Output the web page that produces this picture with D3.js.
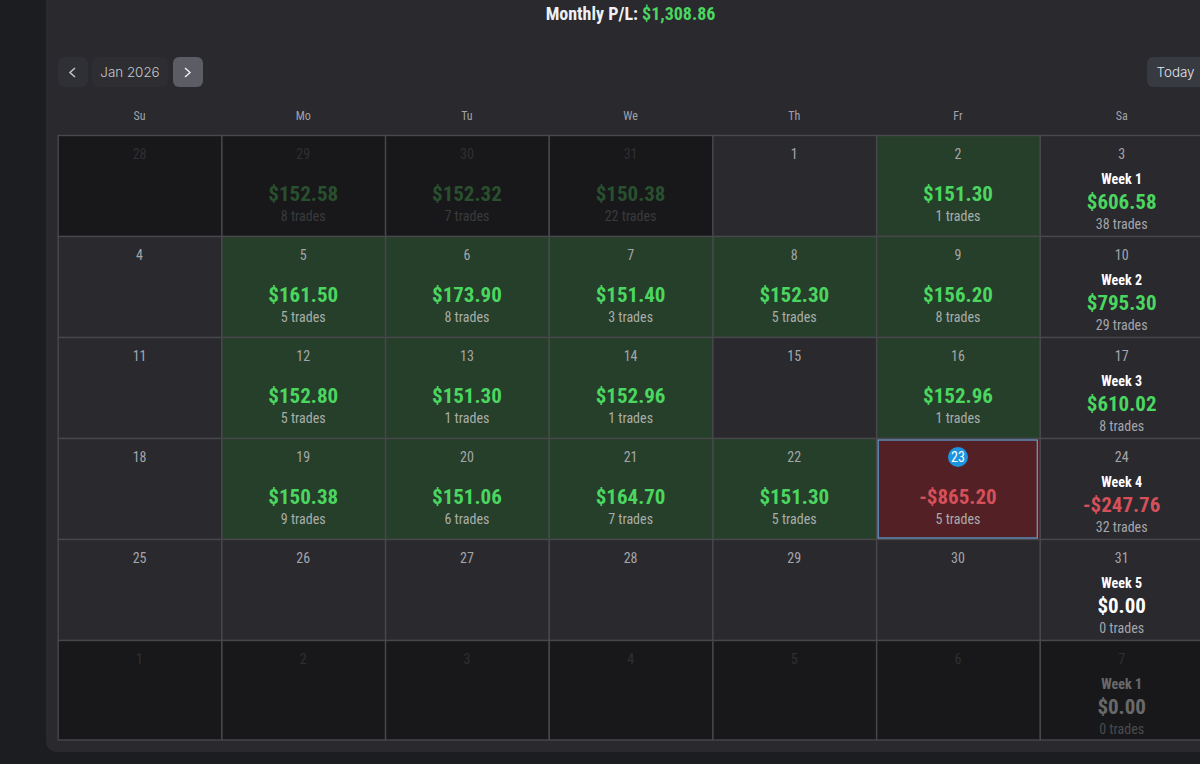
<!DOCTYPE html>
<html>
<head>
<meta charset="utf-8">
<script src="https://cdn.jsdelivr.net/npm/d3@7"></script>
<style>
  html, body { margin: 0; padding: 0; background: #1b1d21; overflow: hidden; }
  svg { display: block; }
  text { font-family: "Roboto Condensed", "Roboto", sans-serif; font-stretch: condensed; }
  .ui { font-family: "Inter", sans-serif; font-stretch: normal; font-weight: 300; }
</style>
</head>
<body>
<div id="grafica"></div>
<script>
// Datos del calendario
const weekDays = ["Su", "Mo", "Tu", "We", "Th", "Fr", "Sa"]
const dayNumbers = [
  28, 29, 30, 31, 1, 2, 3,
  4, 5, 6, 7, 8, 9, 10,
  11, 12, 13, 14, 15, 16, 17,
  18, 19, 20, 21, 22, 23, 24,
  25, 26, 27, 28, 29, 30, 31,
  1, 2, 3, 4, 5, 6, 7
]
const dayPnl = [
  null, 152.58, 152.32, 150.38, null, 151.30, null,
  null, 161.50, 173.90, 151.40, 152.30, 156.20, null,
  null, 152.80, 151.30, 152.96, null, 152.96, null,
  null, 150.38, 151.06, 164.70, 151.30, -865.20, null,
  null, null, null, null, null, null, null,
  null, null, null, null, null, null, null
]
const dayTrades = [
  0, 8, 7, 22, 0, 1, 0,
  0, 5, 8, 3, 5, 8, 0,
  0, 5, 1, 1, 0, 1, 0,
  0, 9, 6, 7, 5, 5, 0,
  0, 0, 0, 0, 0, 0, 0,
  0, 0, 0, 0, 0, 0, 0
]
const outsideMonth = [0, 1, 2, 3, 35, 36, 37, 38, 39, 40, 41]
const todayIndex = 26
const weekLabels = ["Week 1", "Week 2", "Week 3", "Week 4", "Week 5", "Week 1"]
const weekPnl = [606.58, 795.30, 610.02, -247.76, 0, 0]
const weekTrades = [38, 29, 8, 32, 0, 0]
const monthlyPnl = 1308.86

const green = "#4bd660"
const red = "#d6505a"
const line = "#48484c"
const panel = "#29292e"

const width = 1200
const height = 764

const money = v => (v < 0 ? "-$" : "$") + d3.format(",.2f")(Math.abs(v))
const pnlColor = v => v > 0 ? green : v < 0 ? red : "#ffffff"

const svg = d3.select("#grafica").append("svg")
  .attr("width", width)
  .attr("height", height)

// Panel principal
svg.append("rect")
  .attr("x", 46).attr("y", -20)
  .attr("width", 1200).attr("height", 772)
  .attr("rx", 10)
  .attr("fill", panel)

// Escalas de la cuadricula
const xScale = d3.scaleBand().domain(d3.range(7)).range([58.2, 1204])
const yScale = d3.scaleBand().domain(d3.range(6)).range([135.5, 741.5])
const lastRowTrim = 1.5

const cells = dayNumbers.map((day, i) => ({
  day, i,
  col: i % 7,
  row: Math.floor(i / 7),
  pnl: dayPnl[i],
  trades: dayTrades[i],
  outside: outsideMonth.includes(i)
}))

function cellFill(d) {
  if (d.outside) return "#18181a"
  if (d.pnl === null) return panel
  return d.pnl > 0 ? "#263f2a" : "#532026"
}

const centerX = col => xScale(col) + xScale.bandwidth() / 2 - 0.5

// Titulo
const title = svg.append("text")
  .attr("x", 630.5).attr("y", 20)
  .attr("text-anchor", "middle")
  .attr("font-size", 18).attr("font-weight", 700)
  .attr("fill", "#eef0f5")
title.append("tspan").text("Monthly P/L: ")
title.append("tspan").attr("fill", green).text(money(monthlyPnl))

// Controles
const chevron = "M-2.5,-4.5 L2.5,0 L-2.5,4.5"
svg.append("rect").attr("x", 58).attr("y", 57).attr("width", 30).attr("height", 30).attr("rx", 6).attr("fill", "#2f3035")
svg.append("path").attr("d", chevron).attr("transform", "translate(72.5,72.5) scale(-1,1)")
  .attr("fill", "none").attr("stroke", "#c4c5ca").attr("stroke-width", 1.5)
svg.append("rect").attr("x", 92).attr("y", 57).attr("width", 76).attr("height", 30).attr("rx", 6).attr("fill", "#2d2d32")
svg.append("text").attr("class", "ui").attr("x", 130).attr("y", 77)
  .attr("text-anchor", "middle").attr("font-size", 13.4).attr("fill", "#c6c7cc").text("Jan 2026")
svg.append("rect").attr("x", 173).attr("y", 57).attr("width", 30).attr("height", 30).attr("rx", 6).attr("fill", "#5b5c64")
svg.append("path").attr("d", chevron).attr("transform", "translate(187.5,72.5)")
  .attr("fill", "none").attr("stroke", "#eeeef0").attr("stroke-width", 1.5)
svg.append("rect").attr("x", 1147).attr("y", 57).attr("width", 80).attr("height", 30).attr("rx", 6).attr("fill", "#383a41")
svg.append("text").attr("class", "ui").attr("x", 1156.5).attr("y", 77)
  .attr("font-size", 13.4).attr("fill", "#e4e5ea").text("Today")

// Dias de la semana
svg.selectAll(".weekday").data(weekDays).enter().append("text")
  .attr("class", "weekday")
  .attr("x", (d, i) => centerX(i))
  .attr("y", 120)
  .attr("text-anchor", "middle")
  .attr("font-size", 12)
  .attr("fill", "#a2a2a9")
  .text(d => d)

// Celdas
svg.selectAll(".cell").data(cells).enter().append("rect")
  .attr("class", "cell")
  .attr("x", d => xScale(d.col))
  .attr("y", d => yScale(d.row))
  .attr("width", xScale.bandwidth())
  .attr("height", d => yScale.bandwidth() - (d.row === 5 ? lastRowTrim : 0))
  .attr("fill", cellFill)
  .attr("stroke", line)
  .attr("stroke-width", 1.4)

// Numero del dia
svg.selectAll(".day").data(cells.filter(d => d.i !== todayIndex)).enter().append("text")
  .attr("class", "day")
  .attr("x", d => centerX(d.col))
  .attr("y", d => yScale(d.row) + 23)
  .attr("text-anchor", "middle")
  .attr("font-size", 14)
  .attr("fill", d => d.outside ? "#2f2f32" : "#a5a5a9")
  .text(d => d.day)

// Resultado diario
const traded = cells.filter(d => d.pnl !== null)

svg.selectAll(".pnl").data(traded).enter().append("text")
  .attr("class", "pnl")
  .attr("x", d => centerX(d.col))
  .attr("y", d => yScale(d.row) + 65)
  .attr("text-anchor", "middle")
  .attr("font-size", 21).attr("font-weight", 700)
  .attr("fill", d => d.outside ? "#28502e" : pnlColor(d.pnl))
  .text(d => money(d.pnl))

svg.selectAll(".trades").data(traded).enter().append("text")
  .attr("class", "trades")
  .attr("x", d => centerX(d.col))
  .attr("y", d => yScale(d.row) + 85.5)
  .attr("text-anchor", "middle")
  .attr("font-size", 14)
  .attr("fill", d => d.outside ? "#3a3a3d" : "#a9adaa")
  .text(d => d.trades + " trades")

// Resumen semanal
const weekX = centerX(6)
weekLabels.forEach((label, i) => {
  const top = yScale(i)
  const dim = i === 5
  const g = svg.append("g").attr("opacity", dim ? 0.35 : 1)
  g.append("text").attr("x", weekX).attr("y", top + 48)
    .attr("text-anchor", "middle").attr("font-size", 14).attr("font-weight", 700)
    .attr("fill", "#ffffff").text(label)
  g.append("text").attr("x", weekX).attr("y", top + 73)
    .attr("text-anchor", "middle").attr("font-size", 21).attr("font-weight", 700)
    .attr("fill", pnlColor(weekPnl[i])).text(money(weekPnl[i]))
  g.append("text").attr("x", weekX).attr("y", top + 93.5)
    .attr("text-anchor", "middle").attr("font-size", 14)
    .attr("fill", "#a5a5ab").text(weekTrades[i] + " trades")
})

// Dia actual
const today = cells[todayIndex]
svg.append("rect")
  .attr("x", xScale(today.col) + 1.5)
  .attr("y", yScale(today.row) + 1.5)
  .attr("width", xScale.bandwidth() - 4.5)
  .attr("height", yScale.bandwidth() - 3)
  .attr("fill", "none")
  .attr("stroke", "#5b9bc9")
  .attr("stroke-width", 1.3)
svg.append("circle")
  .attr("cx", centerX(today.col))
  .attr("cy", yScale(today.row) + 18.5)
  .attr("r", 10)
  .attr("fill", "#1c94df")
svg.append("text")
  .attr("x", centerX(today.col))
  .attr("y", yScale(today.row) + 23.5)
  .attr("text-anchor", "middle")
  .attr("font-size", 14)
  .attr("fill", "#ffffff")
  .text(today.day)
</script>
</body>
</html>
